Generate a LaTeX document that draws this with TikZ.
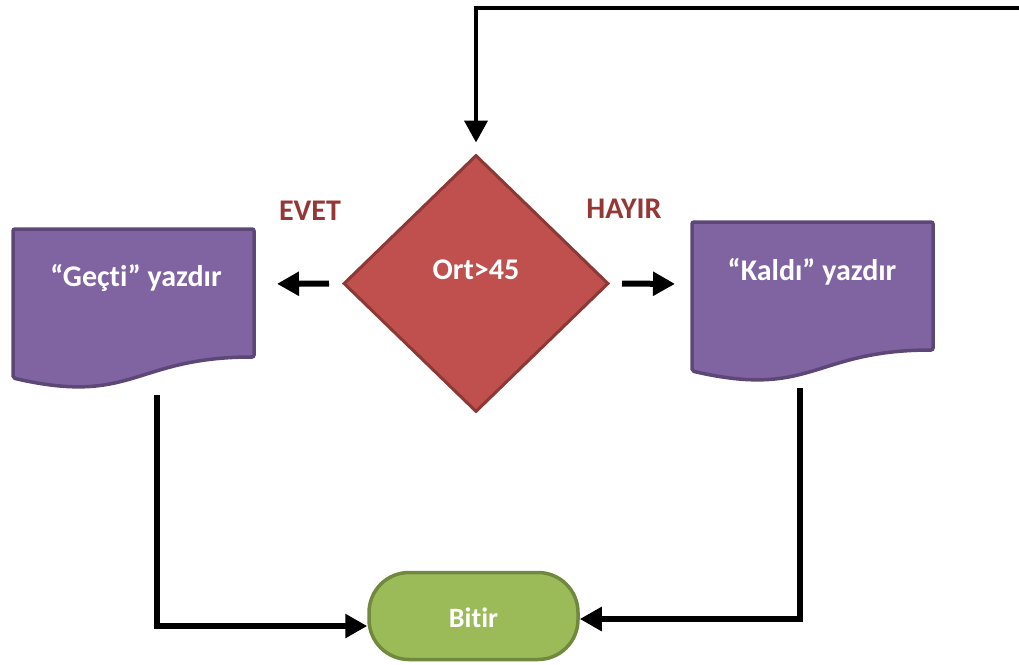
\documentclass[tikz,border=0pt]{standalone}
\usepackage{fontspec}
\setmainfont{Carlito}[Ligatures=NoCommon]
\usetikzlibrary{arrows.meta,shapes.geometric}
\definecolor{diafill}{HTML}{C0504D}
\definecolor{diadraw}{HTML}{8C3836}
\definecolor{docfill}{HTML}{8064A2}
\definecolor{docdraw}{HTML}{5C4776}
\definecolor{endfill}{HTML}{9BBB59}
\definecolor{enddraw}{HTML}{71893F}
\definecolor{lblcol}{HTML}{953735}
\begin{document}
\begin{tikzpicture}[x=1pt,y=-1pt,
  docshape/.style={fill=docfill,draw=docdraw,line width=3.5pt,rounded corners=2pt},
  wtext/.style={text=white,font=\bfseries\fontsize{30}{34}\selectfont,inner sep=0pt},
  lbltext/.style={text=lblcol,font=\bfseries\fontsize{30}{34}\selectfont,inner sep=0pt},
  conn/.style={line width=6pt,-{Triangle[length=22pt,width=23pt]}},
  decision/.style={diamond,fill=diafill,draw=diadraw,line width=3pt,minimum width=265pt,minimum height=257pt,inner sep=0pt},
  terminal/.style={rectangle,rounded corners=40pt,fill=endfill,draw=enddraw,line width=3.5pt,minimum width=209pt,minimum height=87pt,inner sep=0pt}
]
\useasboundingbox (0,0) rectangle (1019,664);

% decision
\node[decision] (dia) at (476,283.5) {};
\node[wtext] (diatext) at (476,270) {Ort>45};

% left document
\path[docshape] (13,229) -- (254,229) -- (254,357) .. controls (133.5,357) and (133.5,406) .. (13,378) -- cycle;
\node[wtext] (gecti) at (136,278) {“Geçti” yazdır};
\coordinate (gectiE) at (254,284);
\coordinate (gectiB) at (157,395);

% right document
\path[docshape] (692,222) -- (933,222) -- (933,350) .. controls (812.5,350) and (812.5,399) .. (692,371) -- cycle;
\node[wtext] (kaldi) at (812,272) {“Kaldı” yazdır};
\coordinate (kaldiW) at (692,284);
\coordinate (kaldiB) at (800,388);

% terminal
\node[terminal] (bitir) at (473.5,616) {};
\node[wtext,font=\bfseries\fontsize{28}{32}\selectfont] (bitirtext) at (473.5,618) {Bitir};

% labels
\node[lbltext] (evet) at (310,211) {EVET};
\node[lbltext] (hayir) at (624,209) {HAYIR};

% connectors
\coordinate (loopstart) at (1021,8);
\draw[conn,line width=4pt,shorten >=11pt] (loopstart) -| (dia.north);
\draw[conn,line width=6pt,shorten <=13pt,shorten >=23pt] (dia.west) -- (gectiE);
\draw[conn,line width=6pt,shorten <=12pt,shorten >=17pt] (dia.east) -- (kaldiW);
\draw[conn] (gectiB) |- ([yshift=-10pt]bitir.west);
\draw[conn] (kaldiB) |- ([yshift=-3pt]bitir.east);
\end{tikzpicture}
\end{document}
